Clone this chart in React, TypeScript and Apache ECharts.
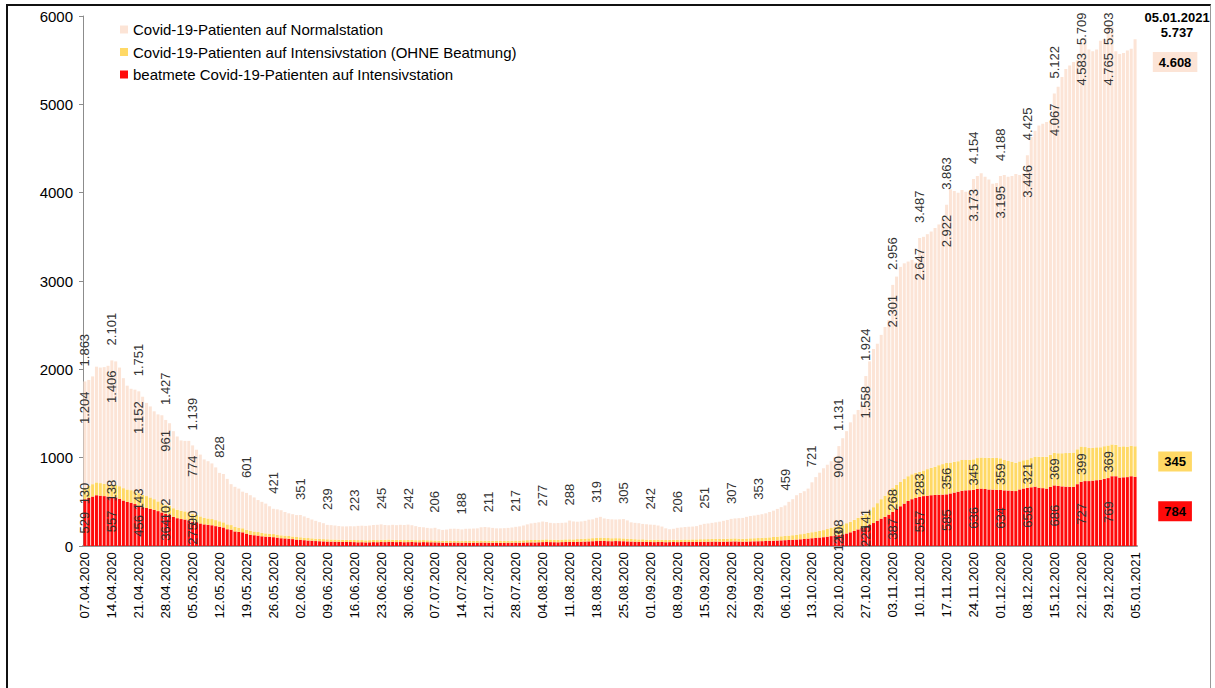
import React, { useEffect, useRef } from 'react';
import * as echarts from 'echarts';

// ---- categories: daily dates 07.04.2020 .. 05.01.2021 ----
const firstDay = { y: 2020, m: 4, d: 7 };
const dayCount = 274;
const categories: string[] = [];
for (let i = 0; i < dayCount; i++) {
  const dt = new Date(Date.UTC(firstDay.y, firstDay.m - 1, firstDay.d + i));
  categories.push(
    `${String(dt.getUTCDate()).padStart(2, '0')}.${String(dt.getUTCMonth() + 1).padStart(2, '0')}.${dt.getUTCFullYear()}`
  );
}

const seriesNames = [
  'Covid-19-Patienten auf Normalstation',
  'Covid-19-Patienten auf Intensivstation (OHNE Beatmung)',
  'beatmete Covid-19-Patienten auf Intensivstation',
];

// ---- total patients per day (top of stack) ----
const totalPatients = [
  1863, 1880, 1920, 2030, 2020, 2025, 2040,
  2101, 2090, 2020, 1900, 1815, 1780, 1770,
  1751, 1690, 1620, 1580, 1525, 1490, 1480,
  1427, 1390, 1300, 1240, 1195, 1190, 1190,
  1139, 1090, 1035, 980, 960, 935, 890,
  828, 815, 760, 700, 670, 650, 615,
  601, 575, 550, 520, 500, 480, 450,
  421, 415, 405, 385, 370, 360, 350,
  351, 335, 318, 300, 285, 270, 258,
  239, 236, 232, 226, 222, 222, 224,
  223, 228, 230, 228, 232, 238, 240,
  245, 238, 235, 240, 236, 240, 238,
  242, 235, 225, 215, 212, 205, 200,
  206, 190, 182, 186, 195, 196, 194,
  188, 195, 196, 198, 200, 212, 215,
  211, 205, 200, 200, 202, 205, 210,
  217, 222, 232, 245, 256, 262, 268,
  277, 272, 262, 258, 260, 262, 265,
  288, 278, 275, 278, 285, 298, 302,
  319, 330, 312, 305, 302, 300, 302,
  305, 290, 268, 262, 258, 250, 246,
  242, 240, 232, 220, 200, 190, 195,
  206, 210, 215, 218, 220, 225, 240,
  251, 255, 262, 268, 275, 285, 295,
  307, 312, 315, 318, 330, 340, 345,
  353, 360, 370, 385, 400, 420, 440,
  459, 500, 530, 575, 600, 620, 650,
  721, 780, 830, 880, 920, 960, 1010,
  1131, 1220, 1300, 1400, 1490, 1540, 1600,
  1924, 2090, 2230, 2290, 2390, 2480, 2560,
  2956, 3050, 3160, 3200, 3220, 3240, 3210,
  3487, 3500, 3530, 3560, 3600, 3640, 3700,
  3863, 4040, 4020, 4000, 4030, 4010, 4000,
  4154, 4190, 4220, 4180, 4150, 4100, 4110,
  4188, 4200, 4180, 4190, 4210, 4200, 4220,
  4425, 4630, 4700, 4760, 4780, 4800, 4810,
  5122, 5200, 5310, 5400, 5440, 5480, 5500,
  5709, 5750, 5620, 5600, 5620, 5720, 5740,
  5903, 5880, 5600, 5570, 5580, 5610, 5630,
  5737,
];

// ---- ventilated ICU patients ----
const ventilated = [
  529, 545, 560, 575, 570, 565, 560,
  557, 550, 535, 515, 500, 490, 475,
  456, 440, 430, 420, 410, 395, 380,
  364, 355, 330, 315, 305, 300, 290,
  275, 270, 255, 245, 240, 235, 225,
  218, 210, 190, 185, 165, 160, 155,
  140, 128, 122, 118, 110, 106, 104,
  100, 95, 88, 86, 82, 78, 72,
  70, 66, 62, 60, 56, 54, 52,
  50, 49, 48, 47, 46, 45, 45,
  44, 42, 43, 41, 42, 44, 43,
  45, 44, 48, 46, 44, 45, 43,
  44, 45, 43, 42, 44, 43, 42,
  41, 40, 38, 37, 38, 39, 38,
  37, 38, 36, 38, 37, 39, 38,
  36, 37, 38, 36, 35, 37, 38,
  38, 37, 39, 40, 41, 40, 42,
  44, 45, 44, 43, 42, 44, 45,
  46, 45, 47, 48, 50, 52, 54,
  56, 58, 57, 55, 54, 56, 55,
  54, 52, 50, 48, 47, 48, 46,
  45, 44, 46, 45, 43, 44, 45,
  44, 45, 46, 45, 47, 46, 48,
  47, 48, 49, 50, 48, 49, 50,
  51, 52, 50, 49, 50, 52, 53,
  54, 55, 57, 58, 60, 62, 64,
  66, 68, 70, 73, 76, 80, 84,
  88, 92, 96, 100, 106, 112, 118,
  123, 132, 142, 155, 170, 188, 205,
  225, 240, 260, 285, 310, 330, 355,
  387, 420, 450, 480, 510, 530, 545,
  557, 565, 570, 575, 578, 580, 582,
  585, 595, 605, 615, 625, 630, 632,
  636, 645, 650, 645, 640, 638, 636,
  634, 630, 628, 625, 622, 640, 650,
  658, 665, 672, 660, 655, 650, 668,
  686, 680, 675, 672, 670, 668, 700,
  727, 735, 735, 740, 745, 750, 760,
  769, 790, 790, 775, 778, 780, 790,
  784,
];

// ---- ICU patients without ventilation ----
const icuNoVent = [
  130, 135, 140, 145, 142, 140, 138,
  138, 140, 142, 140, 140, 142, 143,
  143, 140, 135, 130, 120, 110, 105,
  102, 100, 98, 96, 95, 92, 91,
  90, 85, 80, 75, 72, 70, 68,
  62, 58, 55, 52, 50, 48, 46,
  45, 44, 42, 40, 38, 37, 36,
  35, 34, 33, 32, 31, 30, 30,
  29, 28, 28, 27, 27, 26, 26,
  26, 25, 25, 25, 24, 24, 24,
  24, 25, 24, 23, 24, 25, 24,
  25, 26, 25, 24, 25, 24, 24,
  25, 24, 23, 24, 23, 22, 22,
  21, 20, 20, 21, 20, 20, 19,
  19, 20, 21, 20, 21, 22, 22,
  22, 21, 20, 21, 22, 23, 22,
  23, 24, 25, 26, 27, 28, 28,
  29, 30, 29, 28, 28, 29, 30,
  30, 30, 31, 32, 33, 34, 35,
  36, 38, 36, 35, 34, 33, 33,
  32, 31, 30, 29, 28, 28, 27,
  27, 26, 26, 25, 25, 26, 26,
  26, 27, 27, 28, 28, 29, 29,
  30, 30, 31, 32, 32, 33, 33,
  34, 34, 33, 33, 34, 35, 35,
  36, 37, 38, 40, 42, 44, 46,
  48, 50, 52, 55, 58, 61, 64,
  68, 72, 76, 80, 86, 92, 100,
  108, 112, 116, 120, 126, 132, 136,
  141, 160, 180, 200, 220, 240, 255,
  268, 272, 275, 278, 280, 282, 283,
  283, 290, 300, 310, 320, 335, 345,
  356, 350, 348, 345, 350, 345, 345,
  345, 350, 352, 355, 358, 360, 360,
  359, 345, 335, 330, 320, 318, 320,
  321, 330, 340, 350, 355, 360, 365,
  369, 370, 375, 380, 385, 390, 395,
  399, 385, 375, 370, 372, 368, 370,
  369, 360, 355, 350, 350, 345, 345,
  345,
];

const normalWard = totalPatients.map((t, i) => t - ventilated[i] - icuNoVent[i]);

const yTicks = { min: 0, max: 6000, interval: 1000 };

// ---- presentation ----
const FONT = "'Liberation Sans', Arial, Helvetica, sans-serif";
const COLORS = { normal: '#FCE4D6', icu: '#FFD966', vent: '#FF0A0A' };
const GRID = { left: 83, top: 16, width: 1054, height: 530 };
const LABEL_COLOR = '#333333';

const fmt = (v: number) =>
  v >= 1000 ? `${Math.floor(v / 1000)}.${String(v % 1000).padStart(3, '0')}` : String(v);

const last = dayCount - 1;
const isWeekLabel = (i: number) => i % 7 === 0 && i !== last;
const hasSegLabels = (i: number) => isWeekLabel(i) && (i <= 28 || i >= 196);
const yPix = (v: number) => GRID.top + GRID.height * (1 - v / yTicks.max);
// start (bottom) y of the rotated total label, kept inside the plot
const totalLabelStart = (v: number) => Math.max(yPix(v) - 15, 45);

const plainText = {
  textBorderWidth: 0,
  textBorderColor: 'transparent',
  textShadowBlur: 0,
  opacity: 1,
  fontFamily: FONT,
};

const rotatedBase = {
  show: true,
  rotate: 90,
  fontSize: 13,
  fontWeight: 'normal',
  color: LABEL_COLOR,
  ...plainText,
};

const boxLabel = (bg: string, text: string) => ({
  show: true,
  rotate: 0,
  formatter: text,
  fontSize: 13,
  fontWeight: 'bold',
  color: '#000',
  ...plainText,
  backgroundColor: bg,
  padding: [4, 6, 3, 6],
  align: 'center',
  verticalAlign: 'middle',
});

function buildOption() {
  const ventData = ventilated.map((v, i) => {
    if (i === last)
      return { value: v, label: { ...boxLabel(COLORS.vent, fmt(v)), position: 'inside', offset: [40, 0] } };
    if (hasSegLabels(i))
      return { value: v, label: { ...rotatedBase, position: 'inside', formatter: fmt(v) } };
    return { value: v };
  });
  const icuData = icuNoVent.map((v, i) => {
    if (i === last)
      return { value: v, label: { ...boxLabel(COLORS.icu, fmt(v)), position: 'inside', offset: [40, 0] } };
    if (hasSegLabels(i))
      return { value: v, label: { ...rotatedBase, position: 'inside', formatter: fmt(v) } };
    return { value: v };
  });
  const normalData = normalWard.map((v, i) => {
    const T = yPix(totalPatients[i]);
    if (i === last)
      return {
        value: v,
        label: { ...boxLabel(COLORS.normal, fmt(v)), position: ['50%', 62 - T], offset: [40, 0] },
      };
    if (hasSegLabels(i)) {
      const end = Math.max(T + 10, totalLabelStart(totalPatients[i]) + 8);
      return {
        value: v,
        label: {
          ...rotatedBase,
          position: ['50%', end - T],
          align: 'right',
          verticalAlign: 'middle',
          formatter: fmt(v),
        },
      };
    }
    return { value: v };
  });
  const totalData = totalPatients.map((v, i) => {
    const T = yPix(v);
    if (i === last)
      return {
        value: v,
        label: {
          show: true,
          position: [1, 1 - 14],
          offset: [42, 0],
          rotate: 0,
          align: 'center',
          verticalAlign: 'middle',
          formatter: `${categories[i]}\n${fmt(v)}`,
          fontSize: 13,
          lineHeight: 15,
          fontWeight: 'bold',
          color: '#000',
          ...plainText,
        },
      };
    if (isWeekLabel(i)) {
      const start = totalLabelStart(v);
      return {
        value: v,
        label: {
          ...rotatedBase,
          position: [1, 1 + (start - T)],
          align: 'left',
          verticalAlign: 'middle',
          formatter: fmt(v),
        },
      };
    }
    return { value: v };
  });

  const barCommon = {
    type: 'bar',
    stack: 'patients',
    barCategoryGap: '22%',
    label: { show: false },
    emphasis: { disabled: true },
  };

  return {
    animation: false,
    backgroundColor: '#fff',
    textStyle: { fontFamily: FONT },
    legend: {
      data: seriesNames,
      orient: 'vertical',
      left: 115,
      top: 16,
      itemWidth: 8,
      itemHeight: 8,
      itemGap: 5.5,
      icon: 'rect',
      textStyle: { fontSize: 15, color: '#000', fontFamily: FONT, lineHeight: 17 },
      selectedMode: false,
    },
    grid: { ...GRID, containLabel: false },
    xAxis: {
      type: 'category',
      data: categories,
      axisLine: { show: true, lineStyle: { color: '#9a9a9a', width: 2 } },
      axisTick: { show: false },
      axisLabel: {
        interval: 6,
        rotate: 90,
        fontSize: 13.3,
        margin: 6,
        color: '#000',
        fontFamily: FONT,
      },
    },
    yAxis: {
      type: 'value',
      min: yTicks.min,
      max: yTicks.max,
      interval: yTicks.interval,
      axisLine: { show: true, lineStyle: { color: '#8c8c8c', width: 1 } },
      axisTick: { show: true, length: 4, lineStyle: { color: '#8c8c8c' } },
      splitLine: { show: false },
      axisLabel: {
        fontSize: 15,
        color: '#000',
        margin: 10,
        fontFamily: FONT,
        formatter: (v: number) => String(v),
      },
    },
    series: [
      { ...barCommon, name: seriesNames[2], data: ventData, itemStyle: { color: COLORS.vent } },
      { ...barCommon, name: seriesNames[1], data: icuData, itemStyle: { color: COLORS.icu } },
      { ...barCommon, name: seriesNames[0], data: normalData, itemStyle: { color: COLORS.normal } },
      {
        type: 'scatter',
        name: 'Gesamt',
        data: totalData,
        symbolSize: 2,
        itemStyle: { color: 'rgba(255,255,255,0)', opacity: 1 },
        label: { show: false },
        emphasis: { disabled: true },
        z: 5,
      },
    ],
  };
}

export default function App() {
  const ref = useRef<HTMLDivElement>(null);
  useEffect(() => {
    if (!ref.current) return;
    const chart = echarts.init(ref.current, undefined, { renderer: 'svg' });
    chart.setOption(buildOption() as any);
    return () => chart.dispose();
  }, []);
  return (
    <div style={{ position: 'absolute', left: 0, top: 0, width: 1215, height: 688, background: '#fff' }}>
      <div ref={ref} style={{ position: 'absolute', left: 0, top: 0, width: 1215, height: 688 }} />
      <div
        style={{
          position: 'absolute',
          left: 6,
          top: 4,
          width: 1205,
          height: 700,
          borderTop: '2px solid #111',
          borderLeft: '2px solid #111',
          borderRight: '1.5px solid #999',
          pointerEvents: 'none',
          boxSizing: 'border-box',
        }}
      />
    </div>
  );
}
